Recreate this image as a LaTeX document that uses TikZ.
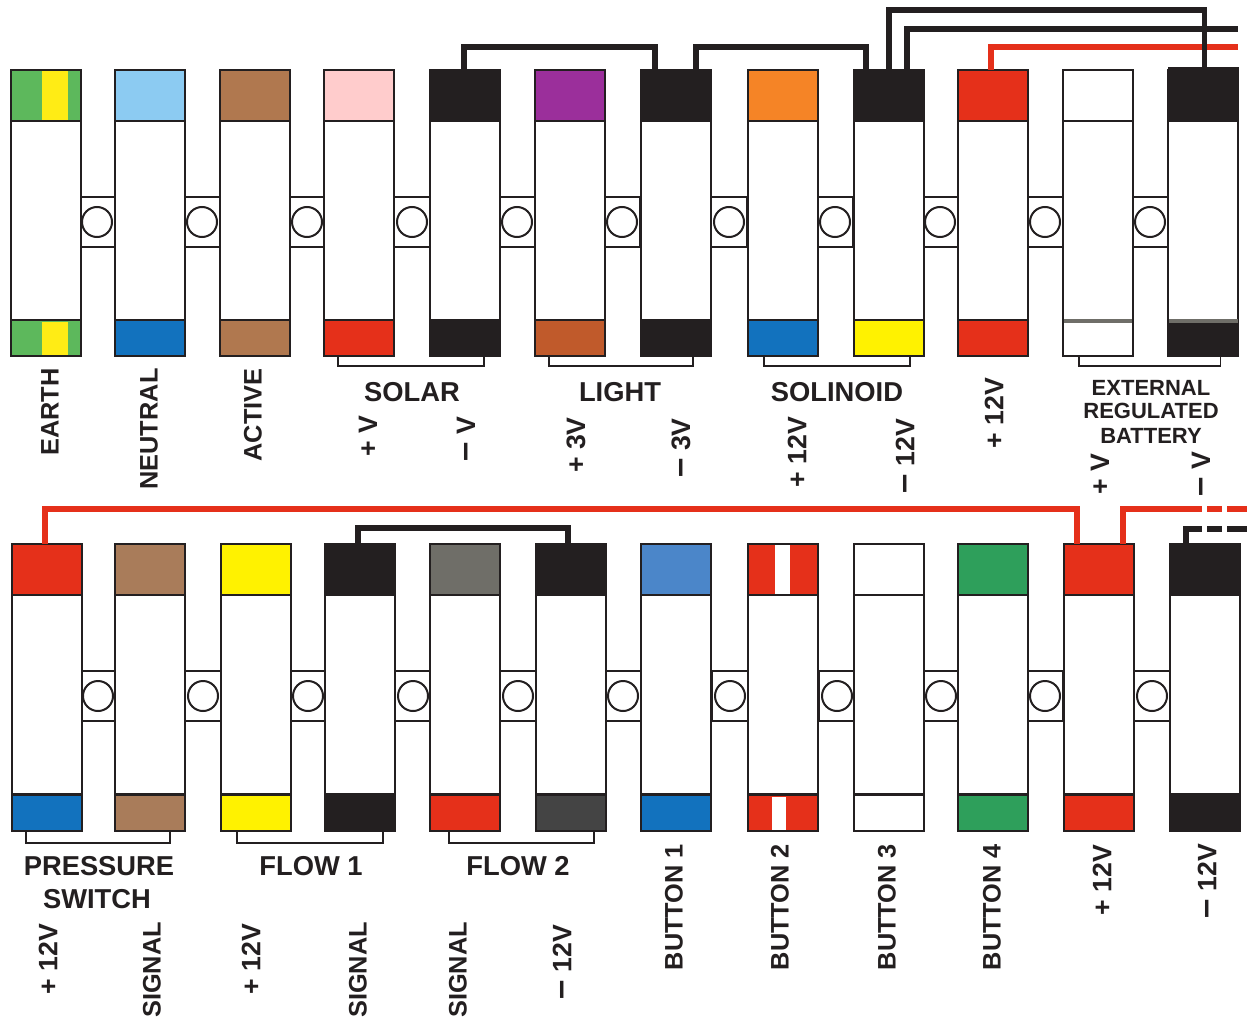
\documentclass[tikz,border=0pt]{standalone}
\usepackage{fontspec}
\setmainfont{Liberation Sans}
\newcommand{\mns}{{\fontsize{26}{22}\selectfont –}}
\definecolor{ink}{HTML}{231F20}
\definecolor{earthg}{HTML}{5DB85C}
\definecolor{earthy}{HTML}{FFEC15}
\definecolor{ltblue}{HTML}{8CCBF2}
\definecolor{brn}{HTML}{B0784F}
\definecolor{pinkk}{HTML}{FFCCCC}
\definecolor{purp}{HTML}{9B2F9B}
\definecolor{orng}{HTML}{F58426}
\definecolor{redd}{HTML}{E5301A}
\definecolor{bluee}{HTML}{1272BE}
\definecolor{rust}{HTML}{C05A2B}
\definecolor{brn2}{HTML}{A97C5A}
\definecolor{yell}{HTML}{FFF200}
\definecolor{gry}{HTML}{6F6E68}
\definecolor{dgry}{HTML}{444444}
\definecolor{mblue}{HTML}{4B86C9}
\definecolor{grn}{HTML}{2E9F5B}
\tikzset{
  strip/.style={draw=ink,line width=1.1pt,inner sep=0pt,outer sep=0pt,anchor=north west,minimum width=52.5pt},
  pad/.style={strip,minimum height=38.25pt},
  bodyy/.style={strip,fill=white,minimum height=149.25pt},
  botpad/.style={strip,minimum height=27pt},
  linkbox/.style={draw=ink,line width=0.9pt,fill=white,inner sep=0pt,outer sep=0pt,minimum width=27pt,minimum height=37.5pt},
  screw/.style={circle,draw=ink,line width=1.5pt,fill=white,inner sep=0pt,outer sep=0pt,minimum size=22.5pt},
  wirek/.style={draw=ink,line width=4pt,line join=miter},
  wirer/.style={draw=redd,line width=4pt,line join=miter},
  bracket/.style={draw=ink,line width=1.1pt},
  biglabel/.style={font=\fontsize{20.5}{24}\selectfont\bfseries,text=ink,inner sep=0pt,align=center},
  sidelabel/.style={font=\fontsize{19}{22}\selectfont\bfseries,text=ink,inner sep=0pt,rotate=90},
  voltlabel/.style={font=\fontsize{20}{22}\selectfont\bfseries,text=ink,inner sep=0pt,rotate=90},
  smalllabel/.style={font=\fontsize{16.5}{18}\selectfont\bfseries,text=ink,inner sep=0pt,align=center}
}
\begin{document}
\begin{tikzpicture}[x=0.75pt,y=-0.75pt]
\useasboundingbox (0,0) rectangle (1252,1020);
\fill[white] (0,0) rectangle (1252,1020);
% link boxes and screws, top row
\foreach \n/\x in {a1/97,a2/202,a3/307,a4/412,a5/517,a6/622,a7/729,a8/835,a9/940,a10/1045,a11/1150}{
  \node[linkbox] (\n) at (\x,222) {};
}
\foreach \n/\x in {c1/98,c2/203,c3/308,c4/413,c5/518,c6/623,c7/730,c8/837,c9/941,c10/1045,c11/1152}{
  \node[linkbox] (\n) at (\x,696) {};
}
% top terminals
\foreach \n/\x/\tc/\bc in {t1/11/earthg/earthg,t2/115/ltblue/bluee,t3/220/brn/brn,t4/324/pinkk/redd,t5/430/ink/ink,t6/535/purp/rust,t7/641/ink/ink,t8/748/orng/bluee,t9/854/ink/yell,t10/958/redd/redd,t11/1063/white/white,t12/1168/ink/ink}{
  \node[bodyy] (\n m) at (\x,121) {};
  \node[pad,fill=\tc] (\n) at (\x,70) {};
  \node[botpad,fill=\bc,line width=1.6pt] (\n b) at (\x,320) {};
}
% bottom terminals
\foreach \n/\x/\tc/\bc in {b1/12/redd/bluee,b2/115/brn2/brn2,b3/221/yell/yell,b4/325/ink/ink,b5/430/gry/redd,b6/536/ink/dgry,b7/641/mblue/bluee,b8/748/redd/redd,b9/854/white/white,b10/958/grn/grn,b11/1064/redd/redd,b12/1170/ink/ink}{
  \node[bodyy] (\n m) at (\x,595) {};
  \node[pad,fill=\tc] (\n) at (\x,544) {};
  \node[botpad,fill=\bc,line width=1.6pt] (\n b) at (\x,795) {};
}
% screws
\foreach \n/\x in {a1/97,a2/202,a3/307,a4/412,a5/517,a6/622,a7/729,a8/835,a9/940,a10/1045,a11/1150}{
  \node[screw] (s\n) at (\n) {};
}
\foreach \n/\x in {c1/98,c2/203,c3/308,c4/413,c5/518,c6/623,c7/730,c8/837,c9/941,c10/1045,c11/1152}{
  \node[screw] (s\n) at (\n) {};
}
% stripes
\fill[earthy] (42,71) rectangle (68,120);
\fill[earthy] (42,322) rectangle (68,355);
\fill[white] (775,545) rectangle (790,594);
\fill[white] (772,797) rectangle (786,830);
\fill[ink] (1168,67) rectangle (1239,71);
\fill[gry] (1064,319) rectangle (1132,323);
\fill[gry] (1169,319) rectangle (1238,323);
% wires, top row
\coordinate (e1) at (1238,47);
\coordinate (e2) at (1238,29);
\draw[wirer] ([xshift=-1.5pt]t10.north) |- (e1);
\draw[wirek] ([xshift=-0.75pt]t5.north) -- ++(0,-23) -| ([xshift=-15.75pt]t7.north);
\draw[wirek] ([xshift=15pt]t7.north) -- ++(0,-23) -| ([xshift=-17.25pt]t9.north);
\draw[wirek] ([xshift=13.5pt]t9.north) |- (e2);
\draw[wirek] (t9.north) -- ++(0,-60) -| ([xshift=1pt]t12.north);
% wires, bottom row
\coordinate (e3) at (1202,509);
\coordinate (e4) at (1207,509);
\coordinate (e5) at (1247,509);
\coordinate (e6) at (1202,529);
\coordinate (e7) at (1207,529);
\coordinate (e8) at (1247,529);
\draw[wirer] ([xshift=-1.5pt]b1.north) -- ++(0,-35) -| ([xshift=-16.5pt]b11.north);
\draw[wirek] ([xshift=-1.5pt]b4.north) -- ++(0,-16) -| ([xshift=-2.25pt]b6.north);
\draw[wirer] ([xshift=18pt]b11.north) |- (e3);
\draw[wirer,dash pattern=on 11.25pt off 3.75pt on 15pt off 3.75pt] (e4) -- (e5);
\draw[wirek] ([xshift=-14.25pt]b12.north) |- (e6);
\draw[wirek,dash pattern=on 11.25pt off 3.75pt on 15pt off 3.75pt] (e7) -- (e8);
% brackets
\draw[bracket] ([xshift=-15.75pt]t4b.south) -- ++(0,10) -| ([xshift=14.25pt]t5b.south);
\draw[bracket] ([xshift=-15.75pt]t6b.south) -- ++(0,10) -| ([xshift=12.75pt]t7b.south);
\draw[bracket] ([xshift=-14.25pt]t8b.south) -- ++(0,10) -| ([xshift=15.75pt]t9b.south);
\draw[bracket] ([xshift=-14.25pt]t11b.south) -- ++(0,10) -| ([xshift=13.1pt]t12b.south);
\draw[bracket] ([xshift=-15.75pt]b1b.south) -- ++(0,12) -| ([xshift=15pt]b2b.south);
\draw[bracket] ([xshift=-14.25pt]b3b.south) -- ++(0,12) -| ([xshift=17.25pt]b4b.south);
\draw[bracket] ([xshift=-12pt]b5b.south) -- ++(0,12) -| ([xshift=17.25pt]b6b.south);
% group labels
\node[biglabel] (gsolar) at (412,392) {SOLAR};
\node[biglabel] (glight) at (620,392) {LIGHT};
\node[biglabel] (gsol) at (837,392) {SOLINOID};
\node[smalllabel] (gext1) at (1151,388) {EXTERNAL};
\node[smalllabel] (gext2) at (1151,411) {REGULATED};
\node[smalllabel] (gext3) at (1151,436) {BATTERY};
\node[biglabel] (gpress1) at (99,866) {PRESSURE};
\node[biglabel] (gpress2) at (97,899) {SWITCH};
\node[biglabel] (gflow1) at (311,866) {FLOW 1};
\node[biglabel] (gflow2) at (518,866) {FLOW 2};
% side labels, top row
\node[sidelabel] (l1) at (50,412) {EARTH};
\node[sidelabel] (l2) at (149,429) {NEUTRAL};
\node[sidelabel] (l3) at (253,415) {ACTIVE};
\node[voltlabel] (l4) at (368,436) {+ V};
\node[voltlabel] (l5) at (466,439) {\mns{} V};
\node[voltlabel] (l6) at (576,445) {+ 3V};
\node[voltlabel] (l7) at (681,448) {\mns{} 3V};
\node[voltlabel] (l8) at (797,452) {+ 12V};
\node[voltlabel] (l9) at (905,456) {\mns{} 12V};
\node[voltlabel] (l10) at (994,413) {+ 12V};
\node[voltlabel] (l11) at (1100,474) {+ V};
\node[voltlabel] (l12) at (1201,474) {\mns{} V};
% side labels, bottom row
\node[voltlabel] (m1) at (48,959) {+ 12V};
\node[sidelabel] (m2) at (152,970) {SIGNAL};
\node[voltlabel] (m3) at (251,959) {+ 12V};
\node[sidelabel] (m4) at (358,970) {SIGNAL};
\node[sidelabel] (m5) at (458,970) {SIGNAL};
\node[voltlabel] (m6) at (562,962) {\mns{} 12V};
\node[sidelabel] (m7) at (674,907) {BUTTON 1};
\node[sidelabel] (m8) at (780,907) {BUTTON 2};
\node[sidelabel] (m9) at (887,907) {BUTTON 3};
\node[sidelabel] (m10) at (992,907) {BUTTON 4};
\node[voltlabel] (m11) at (1102,880) {+ 12V};
\node[voltlabel] (m12) at (1207,881) {\mns{} 12V};
\end{tikzpicture}
\end{document}
